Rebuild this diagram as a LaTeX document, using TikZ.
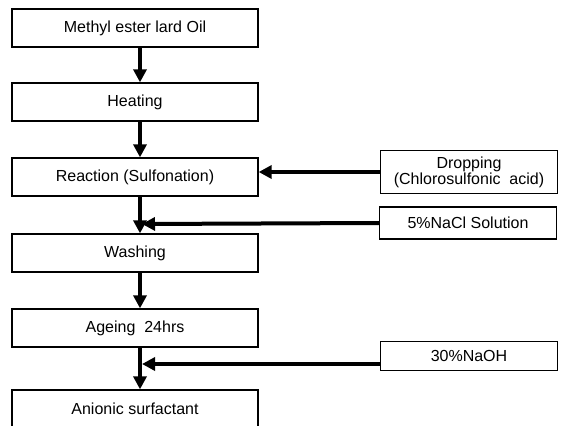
\documentclass[tikz,border=0pt]{standalone}
\usepackage{fontspec}
\setmainfont{Liberation Sans}
\usetikzlibrary{arrows.meta}
\begin{document}
\begin{tikzpicture}[x=1pt,y=-1pt,
  proc/.style={draw,line width=1.3pt,minimum width=246pt,minimum height=38pt,inner sep=0pt,font=\fontsize{16}{18}\selectfont},
  side/.style={draw,line width=1.3pt,minimum width=177pt,inner sep=0pt,font=\fontsize{16}{14}\selectfont,align=center},
  flow/.style={line width=4pt,-{Triangle[length=13pt,width=13pt]}}]
\useasboundingbox (0,0) rectangle (561,425);
\clip (0,0) rectangle (561,425);
\node[proc] (oil) at (135,28) {Methyl ester lard Oil};
\node[proc] (heat) at (135,102) {Heating};
\node[proc] (react) at (135,177) {Reaction (Sulfonation)};
\node[proc] (wash) at (135,253) {Washing};
\node[proc] (age) at (135,328) {Ageing\ \ 24hrs};
\node[proc] (anion) at (135,409) {Anionic surfactant};
\node[side,minimum height=43pt] (drop) at (469,172) {Dropping\\(Chlorosulfonic\ \ acid)};
\node[side,minimum height=32pt] (nacl) at (468,223) {5\%NaCl Solution};
\node[side,minimum height=29pt] (naoh) at (469,356) {30\%NaOH};
\coordinate (j1) at (140,224);
\coordinate (j2) at (140,364);
\draw[flow] ([xshift=5pt]oil.south) -- ([xshift=5pt]heat.north);
\draw[flow] ([xshift=5pt]heat.south) -- ([xshift=5pt]react.north);
\draw[flow] ([xshift=5pt]react.south) -- ([xshift=5pt]wash.north);
\draw[flow] ([xshift=5pt]wash.south) -- ([xshift=5pt]age.north);
\draw[flow] ([xshift=5pt]age.south) -- ([xshift=5pt]anion.north);
\draw[flow] (drop.west) -- (react.east |- drop.west);
\draw[flow] (nacl.west) -- ([xshift=2pt]j1);
\draw[flow] (naoh.west |- j2) -- ([xshift=2pt]j2);
\end{tikzpicture}
\end{document}
